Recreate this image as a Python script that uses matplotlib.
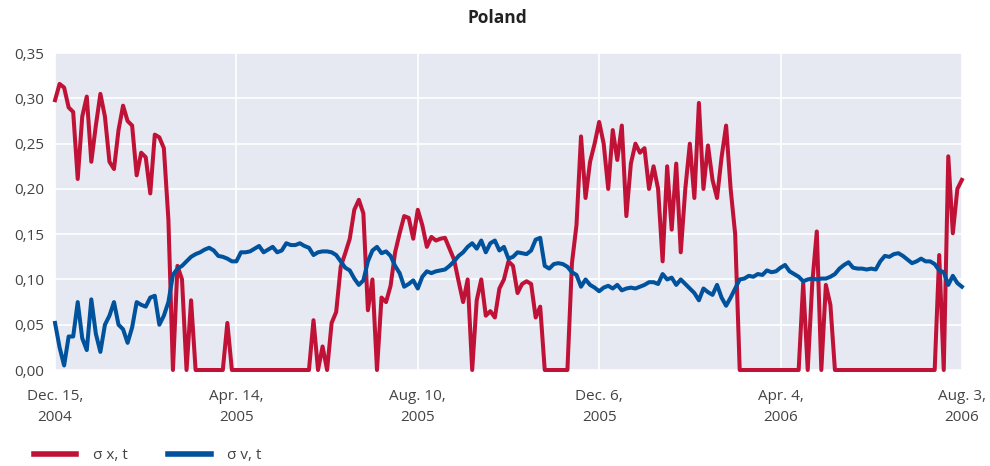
import numpy as np
import matplotlib
matplotlib.use("Agg")
import matplotlib.pyplot as plt
from matplotlib.lines import Line2D

# sigma x,t (red) and sigma v,t (blue)
sigma_x = [
    0.298, 0.316, 0.312, 0.290, 0.285, 0.211, 0.280, 0.302, 0.230, 0.270,   # 0
    0.305, 0.280, 0.230, 0.222, 0.265, 0.292, 0.275, 0.270, 0.215, 0.240,   # 10
    0.235, 0.195, 0.260, 0.257, 0.245, 0.166, 0.000, 0.115, 0.100, 0.000,   # 20
    0.077, 0.000, 0.000, 0.000, 0.000, 0.000, 0.000, 0.000, 0.052, 0.000,   # 30
    0.000, 0.000, 0.000, 0.000, 0.000, 0.000, 0.000, 0.000, 0.000, 0.000,   # 40
    0.000, 0.000, 0.000, 0.000, 0.000, 0.000, 0.000, 0.055, 0.000, 0.026,   # 50
    0.000, 0.052, 0.064, 0.114, 0.129, 0.145, 0.177, 0.188, 0.173, 0.066,   # 60
    0.100, 0.000, 0.080, 0.075, 0.093, 0.130, 0.151, 0.170, 0.168, 0.145,   # 70
    0.177, 0.160, 0.136, 0.147, 0.143, 0.145, 0.146, 0.134, 0.122, 0.098,   # 80
    0.075, 0.100, 0.000, 0.077, 0.100, 0.060, 0.065, 0.058, 0.090, 0.100,   # 90
    0.120, 0.115, 0.085, 0.095, 0.098, 0.095, 0.058, 0.070, 0.000, 0.000,   # 100
    0.000, 0.000, 0.000, 0.000, 0.118, 0.160, 0.258, 0.190, 0.230, 0.250,   # 110
    0.274, 0.250, 0.200, 0.265, 0.232, 0.270, 0.170, 0.228, 0.250, 0.240,   # 120
    0.245, 0.200, 0.225, 0.200, 0.120, 0.225, 0.155, 0.228, 0.130, 0.200,   # 130
    0.250, 0.190, 0.295, 0.200, 0.248, 0.210, 0.190, 0.235, 0.270, 0.200,   # 140
    0.150, 0.000, 0.000, 0.000, 0.000, 0.000, 0.000, 0.000, 0.000, 0.000,   # 150
    0.000, 0.000, 0.000, 0.000, 0.000, 0.096, 0.000, 0.096, 0.153, 0.000,   # 160
    0.094, 0.072, 0.000, 0.000, 0.000, 0.000, 0.000, 0.000, 0.000, 0.000,   # 170
    0.000, 0.000, 0.000, 0.000, 0.000, 0.000, 0.000, 0.000, 0.000, 0.000,   # 180
    0.000, 0.000, 0.000, 0.000, 0.000, 0.127, 0.000, 0.236, 0.151, 0.200,   # 190
    0.210,
]
sigma_v = [
    0.052, 0.025, 0.005, 0.037, 0.037, 0.075, 0.035, 0.022, 0.078, 0.040,   # 0
    0.020, 0.050, 0.060, 0.075, 0.050, 0.045, 0.030, 0.047, 0.075, 0.072,   # 10
    0.070, 0.080, 0.082, 0.050, 0.060, 0.075, 0.105, 0.112, 0.115, 0.120,   # 20
    0.125, 0.128, 0.130, 0.133, 0.135, 0.132, 0.126, 0.125, 0.123, 0.120,   # 30
    0.120, 0.130, 0.130, 0.131, 0.134, 0.137, 0.130, 0.133, 0.136, 0.130,   # 40
    0.132, 0.140, 0.138, 0.138, 0.140, 0.137, 0.135, 0.127, 0.130, 0.131,   # 50
    0.131, 0.130, 0.127, 0.120, 0.113, 0.110, 0.101, 0.094, 0.099, 0.120,   # 60
    0.132, 0.136, 0.129, 0.131, 0.126, 0.115, 0.107, 0.092, 0.095, 0.099,   # 70
    0.090, 0.103, 0.109, 0.107, 0.109, 0.110, 0.111, 0.115, 0.120, 0.126,   # 80
    0.130, 0.136, 0.140, 0.134, 0.143, 0.130, 0.140, 0.143, 0.132, 0.136,   # 90
    0.123, 0.125, 0.130, 0.129, 0.128, 0.132, 0.144, 0.146, 0.115, 0.112,   # 100
    0.117, 0.118, 0.117, 0.114, 0.108, 0.105, 0.092, 0.100, 0.094, 0.091,   # 110
    0.087, 0.091, 0.093, 0.090, 0.094, 0.088, 0.090, 0.091, 0.090, 0.092,   # 120
    0.094, 0.097, 0.097, 0.095, 0.106, 0.100, 0.102, 0.094, 0.100, 0.095,   # 130
    0.090, 0.085, 0.077, 0.090, 0.086, 0.083, 0.094, 0.080, 0.071, 0.080,   # 140
    0.090, 0.100, 0.101, 0.104, 0.103, 0.106, 0.105, 0.110, 0.108, 0.109,   # 150
    0.113, 0.116, 0.109, 0.106, 0.103, 0.098, 0.100, 0.101, 0.100, 0.101,   # 160
    0.101, 0.103, 0.106, 0.112, 0.116, 0.119, 0.113, 0.112, 0.112, 0.111,   # 170
    0.112, 0.111, 0.120, 0.126, 0.125, 0.128, 0.129, 0.126, 0.122, 0.118,   # 180
    0.120, 0.123, 0.120, 0.120, 0.117, 0.110, 0.108, 0.094, 0.104, 0.096,   # 190
    0.092,
]
tick_pos = [0, 40, 80, 120, 160, 200]
tick_labels = ["Dec. 15,\n2004", "Apr. 14,\n2005", "Aug. 10,\n2005",
               "Dec. 6,\n2005", "Apr. 4,\n2006", "Aug. 3,\n2006"]
y_ticks = [0.0, 0.05, 0.10, 0.15, 0.20, 0.25, 0.30, 0.35]

red = "#C01237"
blue = "#00529C"
text_col = "#444444"
plt.rcParams['font.family'] = ['Open Sans', 'DejaVu Sans']

fig = plt.figure(figsize=(9.9, 4.66), dpi=100)
ax = fig.add_axes([0.0556, 0.206, 0.916, 0.680])
ax.set_facecolor("#E6E9F2")

x = np.arange(len(sigma_x))
ax.plot(x, sigma_x, color=red, lw=2.9, clip_on=False, zorder=3)
ax.plot(x, sigma_v, color=blue, lw=2.9, clip_on=False, zorder=4)

ax.set_xlim(0, len(sigma_x) - 1)
ax.set_ylim(0, 0.35)
ax.set_yticks(y_ticks)
ax.set_yticklabels([f"{v:.2f}".replace('.', ',') for v in y_ticks])
ax.set_xticks(tick_pos)
ax.set_xticklabels(tick_labels, linespacing=1.55)
ax.tick_params(length=0, labelsize=11, colors=text_col)
ax.tick_params(axis='x', pad=14)
ax.tick_params(axis='y', pad=8)
ax.grid(True, color="white", lw=1.2)
ax.set_axisbelow(True)
for s in ax.spines.values():
    s.set_visible(False)

fig.text(0.502, 0.962, "Poland", ha='center', va='center', fontsize=12.5,
         fontweight='bold', color="#222222")

handles = [Line2D([], [], color=red, lw=4), Line2D([], [], color=blue, lw=4)]
fig.legend(handles, ["σ x, t", "σ v, t"], loc='center left',
           bbox_to_anchor=(0.02, 0.022), ncol=2, frameon=False, fontsize=11,
           handlelength=2.8, handletextpad=1.1, columnspacing=2.6,
           labelcolor=text_col)

fig.savefig("out.png", dpi=100)
